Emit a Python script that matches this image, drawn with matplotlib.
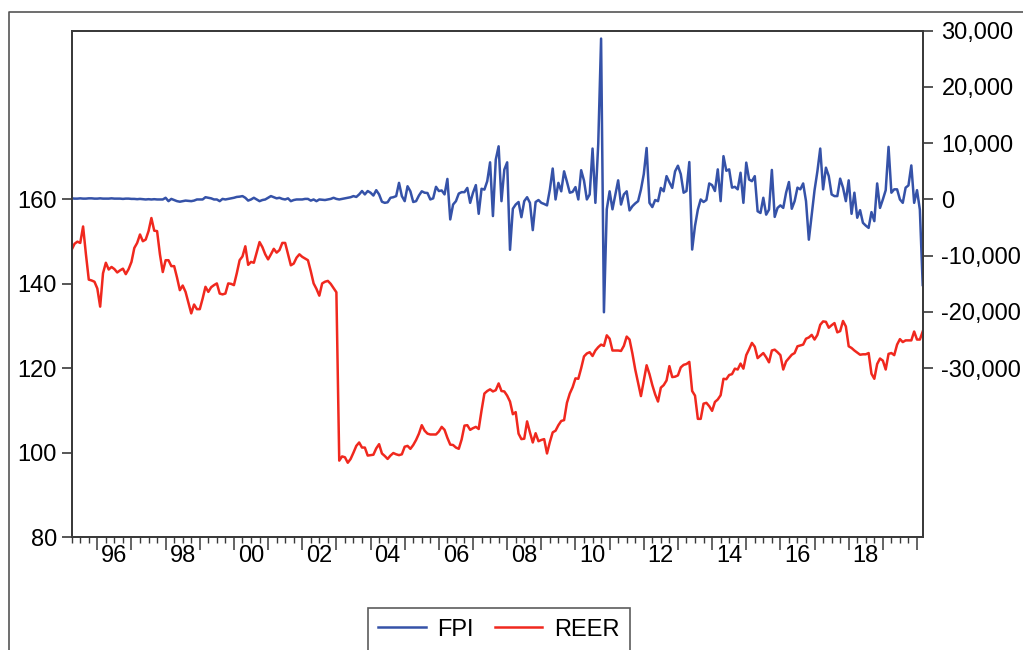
import numpy as np
import matplotlib
matplotlib.use('Agg')
import matplotlib.pyplot as plt
from matplotlib.lines import Line2D
import matplotlib.transforms as mtransforms

plt.rcParams['font.family'] = ['Liberation Sans', 'DejaVu Sans']

# Monthly data, 1995M04 .. 2020M03
start_year = 1995
start_month = 4

reer = [
    148.1, 149.5, 150.0, 149.7, 153.6, 147.0, 141.0, 140.8, 140.5, 138.9,
    134.6, 142.5, 145.0, 143.4, 144.0, 143.5, 142.7, 143.2, 143.6, 142.3,
    143.5, 145.2, 148.5, 149.7, 151.7, 150.1, 150.5, 152.5, 155.6, 152.6,
    152.5, 147.0, 142.8, 145.6, 145.6, 144.2, 144.2, 141.5, 138.5, 139.6,
    138.1, 135.5, 133.0, 135.1, 134.0, 134.0, 136.5, 139.3, 138.1, 139.2,
    139.7, 140.1, 137.7, 137.5, 137.7, 140.1, 140.0, 139.7, 142.5, 145.6,
    146.5, 148.9, 144.5, 145.2, 145.0, 147.5, 149.9, 148.7, 147.0, 145.8,
    147.0, 148.3, 147.4, 148.0, 149.7, 149.7, 147.0, 144.4, 144.8, 146.2,
    147.0, 146.4, 146.0, 145.6, 143.0, 140.1, 138.8, 137.2, 140.1, 140.5,
    140.7, 140.0, 139.0, 138.0, 98.1, 99.1, 98.9, 97.6, 98.5, 100.0,
    101.6, 102.4, 101.2, 101.2, 99.3, 99.4, 99.5, 101.0, 102.0, 99.8,
    99.2, 98.5, 99.3, 99.9, 99.6, 99.4, 99.6, 101.4, 101.6, 100.9,
    101.8, 103.0, 104.5, 106.5, 105.2, 104.5, 104.3, 104.3, 104.3, 105.0,
    106.1, 105.4, 103.5, 101.9, 101.8, 101.2, 100.9, 103.1, 106.4, 106.5,
    105.4, 105.8, 106.1, 105.6, 110.0, 114.0, 114.6, 115.0, 114.5, 114.8,
    116.4, 114.6, 114.5, 113.5, 112.1, 109.1, 109.6, 104.5, 103.2, 103.3,
    107.4, 104.8, 102.4, 104.6, 102.7, 103.0, 103.2, 99.8, 102.5, 104.8,
    105.2, 106.5, 107.5, 107.7, 111.8, 114.0, 115.5, 117.6, 117.5, 120.0,
    122.8, 123.5, 123.8, 122.9, 124.2, 125.0, 125.6, 125.3, 127.8, 127.0,
    124.2, 124.2, 124.2, 124.1, 125.3, 127.5, 126.8, 123.5, 119.7, 116.5,
    113.4, 117.0, 120.7, 118.6, 116.0, 113.8, 112.1, 115.4, 116.0, 117.1,
    120.5, 117.9, 118.0, 118.3, 120.2, 120.8, 121.0, 121.5, 114.6, 113.5,
    108.0, 108.0, 111.6, 111.8, 111.0, 109.9, 112.0, 112.6, 113.6, 117.5,
    117.4, 118.4, 118.6, 119.9, 119.7, 121.1, 119.9, 123.1, 124.5, 126.0,
    125.1, 122.4, 123.0, 123.6, 122.6, 121.4, 124.2, 124.4, 123.8, 123.1,
    119.7, 121.6, 122.4, 123.2, 123.6, 125.2, 125.4, 125.6, 127.0, 127.3,
    127.9, 126.8, 127.9, 130.3, 131.1, 131.0, 129.6, 130.2, 130.7, 128.5,
    128.8, 131.2, 129.9, 125.2, 124.8, 124.2, 123.7, 123.2, 123.3, 123.3,
    123.6, 118.7, 117.5, 121.0, 122.3, 121.8, 119.7, 123.4, 123.6, 123.1,
    125.6, 126.9, 126.2, 126.6, 126.6, 126.6, 128.7, 126.8, 126.8, 128.7,
]

fpi = [
    200, 150, 150, 200, 150, 150, 200, 200, 150, 150,
    200, 150, 150, 150, 200, 150, 150, 150, 100, 150,
    150, 100, 100, 50, 100, 50, 0, 50, 0, 50,
    0, 0, 0, 300, -300, 100, -100, -300, -400, -300,
    -200, -250, -300, -200, 0, 0, 0, 400, 300, 200,
    0, 0, -300, 100, 0, 100, 200, 300, 450, 500,
    600, 300, -200, 0, 300, 0, -300, -100, 0, 300,
    600, 400, 200, 300, 100, 0, 200, -300, -100, 0,
    0, 0, 100, 100, -200, 0, -300, 0, -50, -100,
    0, 100, 300, 100, 0, 100, 200, 300, 400, 600,
    450, 900, 1500, 900, 1500, 1200, 700, 1650, 900, -400,
    -600, -500, 300, 400, 600, 2950, 600, -300, 2350, 1450,
    -450, -300, 700, 1450, 1200, 1150, 0, 200, 2250, 1500,
    1600, 900, 3650, -3550, -900, -300, 1050, 1300, 1300, 2050,
    -600, 1200, 2550, -2550, 1900, 1750, 3250, 6600, -2950, 7100,
    9450, -300, 5300, 6600, -8950, -1650, -900, -450, -3150, -300,
    400, -600, -5450, -450, -100, -600, -800, -1050, 1750, 5500,
    0, 2950, 1450, 5000, 3150, 1200, 1350, 2200, 0, 5200,
    3350, 0, 900, 9050, -600, 9900, 28600, -20050, -1750, 1450,
    -1750, 800, 3400, -900, 900, 1450, -1950, -1200, -700, -300,
    1750, 4500, 9150, -600, -1350, -100, -300, 2050, 1450, 4150,
    3050, 2050, 5000, 6000, 4500, 1200, 1500, 6650, -8900, -4700,
    -1800, 0, -450, -100, 2850, 2550, 1500, 5350, -300, 7700,
    5100, 5350, 2100, 2250, 1800, 4750, -600, 6550, 3550, 3250,
    4150, -2100, -2400, 300, -2700, -1800, 5250, -3100, -1500, -1050,
    -1500, 1200, 3100, -1650, -300, 2100, 1800, 2850, -300, -7150,
    -2700, 1650, 5000, 9050, 1800, 5650, 4150, 900, 600, 600,
    3700, 2100, -300, 3400, -2550, 1200, -3250, -1900, -4150, -4650,
    -5050, -2250, -3850, 2850, -1500, 0, 1650, 9350, 1200, 1800,
    1800, 0, -600, 2100, 2500, 6050, -600, 1650, -1800, -15200,
]

year_label_years = [1996, 1998, 2000, 2002, 2004, 2006, 2008, 2010, 2012, 2014, 2016, 2018]
year_labels = ['96', '98', '00', '02', '04', '06', '08', '10', '12', '14', '16', '18']
left_ticks = [80, 100, 120, 140, 160]
left_labels = ['80', '100', '120', '140', '160']
right_ticks = [-30000, -20000, -10000, 0, 10000, 20000, 30000]
right_labels = ['-30,000', '-20,000', '-10,000', '0', '10,000', '20,000', '30,000']
series_names = ['FPI', 'REER']

BLUE = '#3552a8'
RED = '#f0281e'
SPINE = '#3a3a3a'
FS = 17

n = len(reer)
x = start_year + (start_month - 1) / 12 + np.arange(n) / 12.0

W, H = 1023, 650
fig = plt.figure(figsize=(W / 100, H / 100), dpi=100)
L, R, T, B = 71.7, 922.7, 30.7, 537.0
ax = fig.add_axes([L / W, 1 - B / H, (R - L) / W, (B - T) / H])
ax2 = ax.twinx()

ax.plot(x, reer, color=RED, lw=1.8, solid_joinstyle='round')
ax2.plot(x, fpi, color=BLUE, lw=1.8, solid_joinstyle='round')

ax.set_xlim(x[0], x[-1])
ax.set_ylim(80, 200)
ax2.set_ylim(-60000, 30000)

for a in (ax, ax2):
    for s in a.spines.values():
        s.set_color(SPINE)
        s.set_linewidth(1.3)

ax.set_yticks(left_ticks)
ax.set_yticklabels(left_labels)
ax.tick_params(axis='y', direction='out', length=7.5, width=1.2, pad=3,
               labelsize=FS, color=SPINE)
ax2.set_yticks(right_ticks)
ax2.set_yticklabels(right_labels)
ax2.tick_params(axis='y', direction='out', length=7.5, width=1.2, pad=6,
                labelsize=FS, color=SPINE)

major_years = np.arange(1996, 2021)
quarters = np.arange(1995.25, 2020.17, 0.25)
ax.set_xticks(major_years)
ax.set_xticklabels([])
ax.set_xticks(quarters, minor=True)
ax.tick_params(axis='x', which='major', direction='out', length=9, width=1.1, color=SPINE)
ax.tick_params(axis='x', which='minor', direction='out', length=4.5, width=1.0, color=SPINE)

trans = mtransforms.blended_transform_factory(ax.transData, ax.transAxes)
for yr, lab in zip(year_label_years, year_labels):
    ax.text(yr + 0.5, -19 / (B - T), lab, transform=trans, ha='center', va='center',
            fontsize=FS)

# outer frame (cropped)
fig.add_artist(Line2D([9 / W, 9 / W, 1.0], [0.0, 1 - 11.7 / H, 1 - 11.7 / H],
                      transform=fig.transFigure, color='#555555', lw=1.2))

handles = [Line2D([], [], color=BLUE, lw=1.8), Line2D([], [], color=RED, lw=1.8)]
leg = fig.legend(handles, series_names, loc='upper center',
                 bbox_to_anchor=(499 / W, 1 - 608 / H), ncol=2, frameon=True,
                 fancybox=False, edgecolor='#333333', fontsize=FS,
                 handlelength=2.0, handletextpad=0.5, columnspacing=0.9,
                 borderpad=0.45, borderaxespad=0)
leg.get_frame().set_linewidth(1.2)

fig.savefig('out.png', dpi=100)
